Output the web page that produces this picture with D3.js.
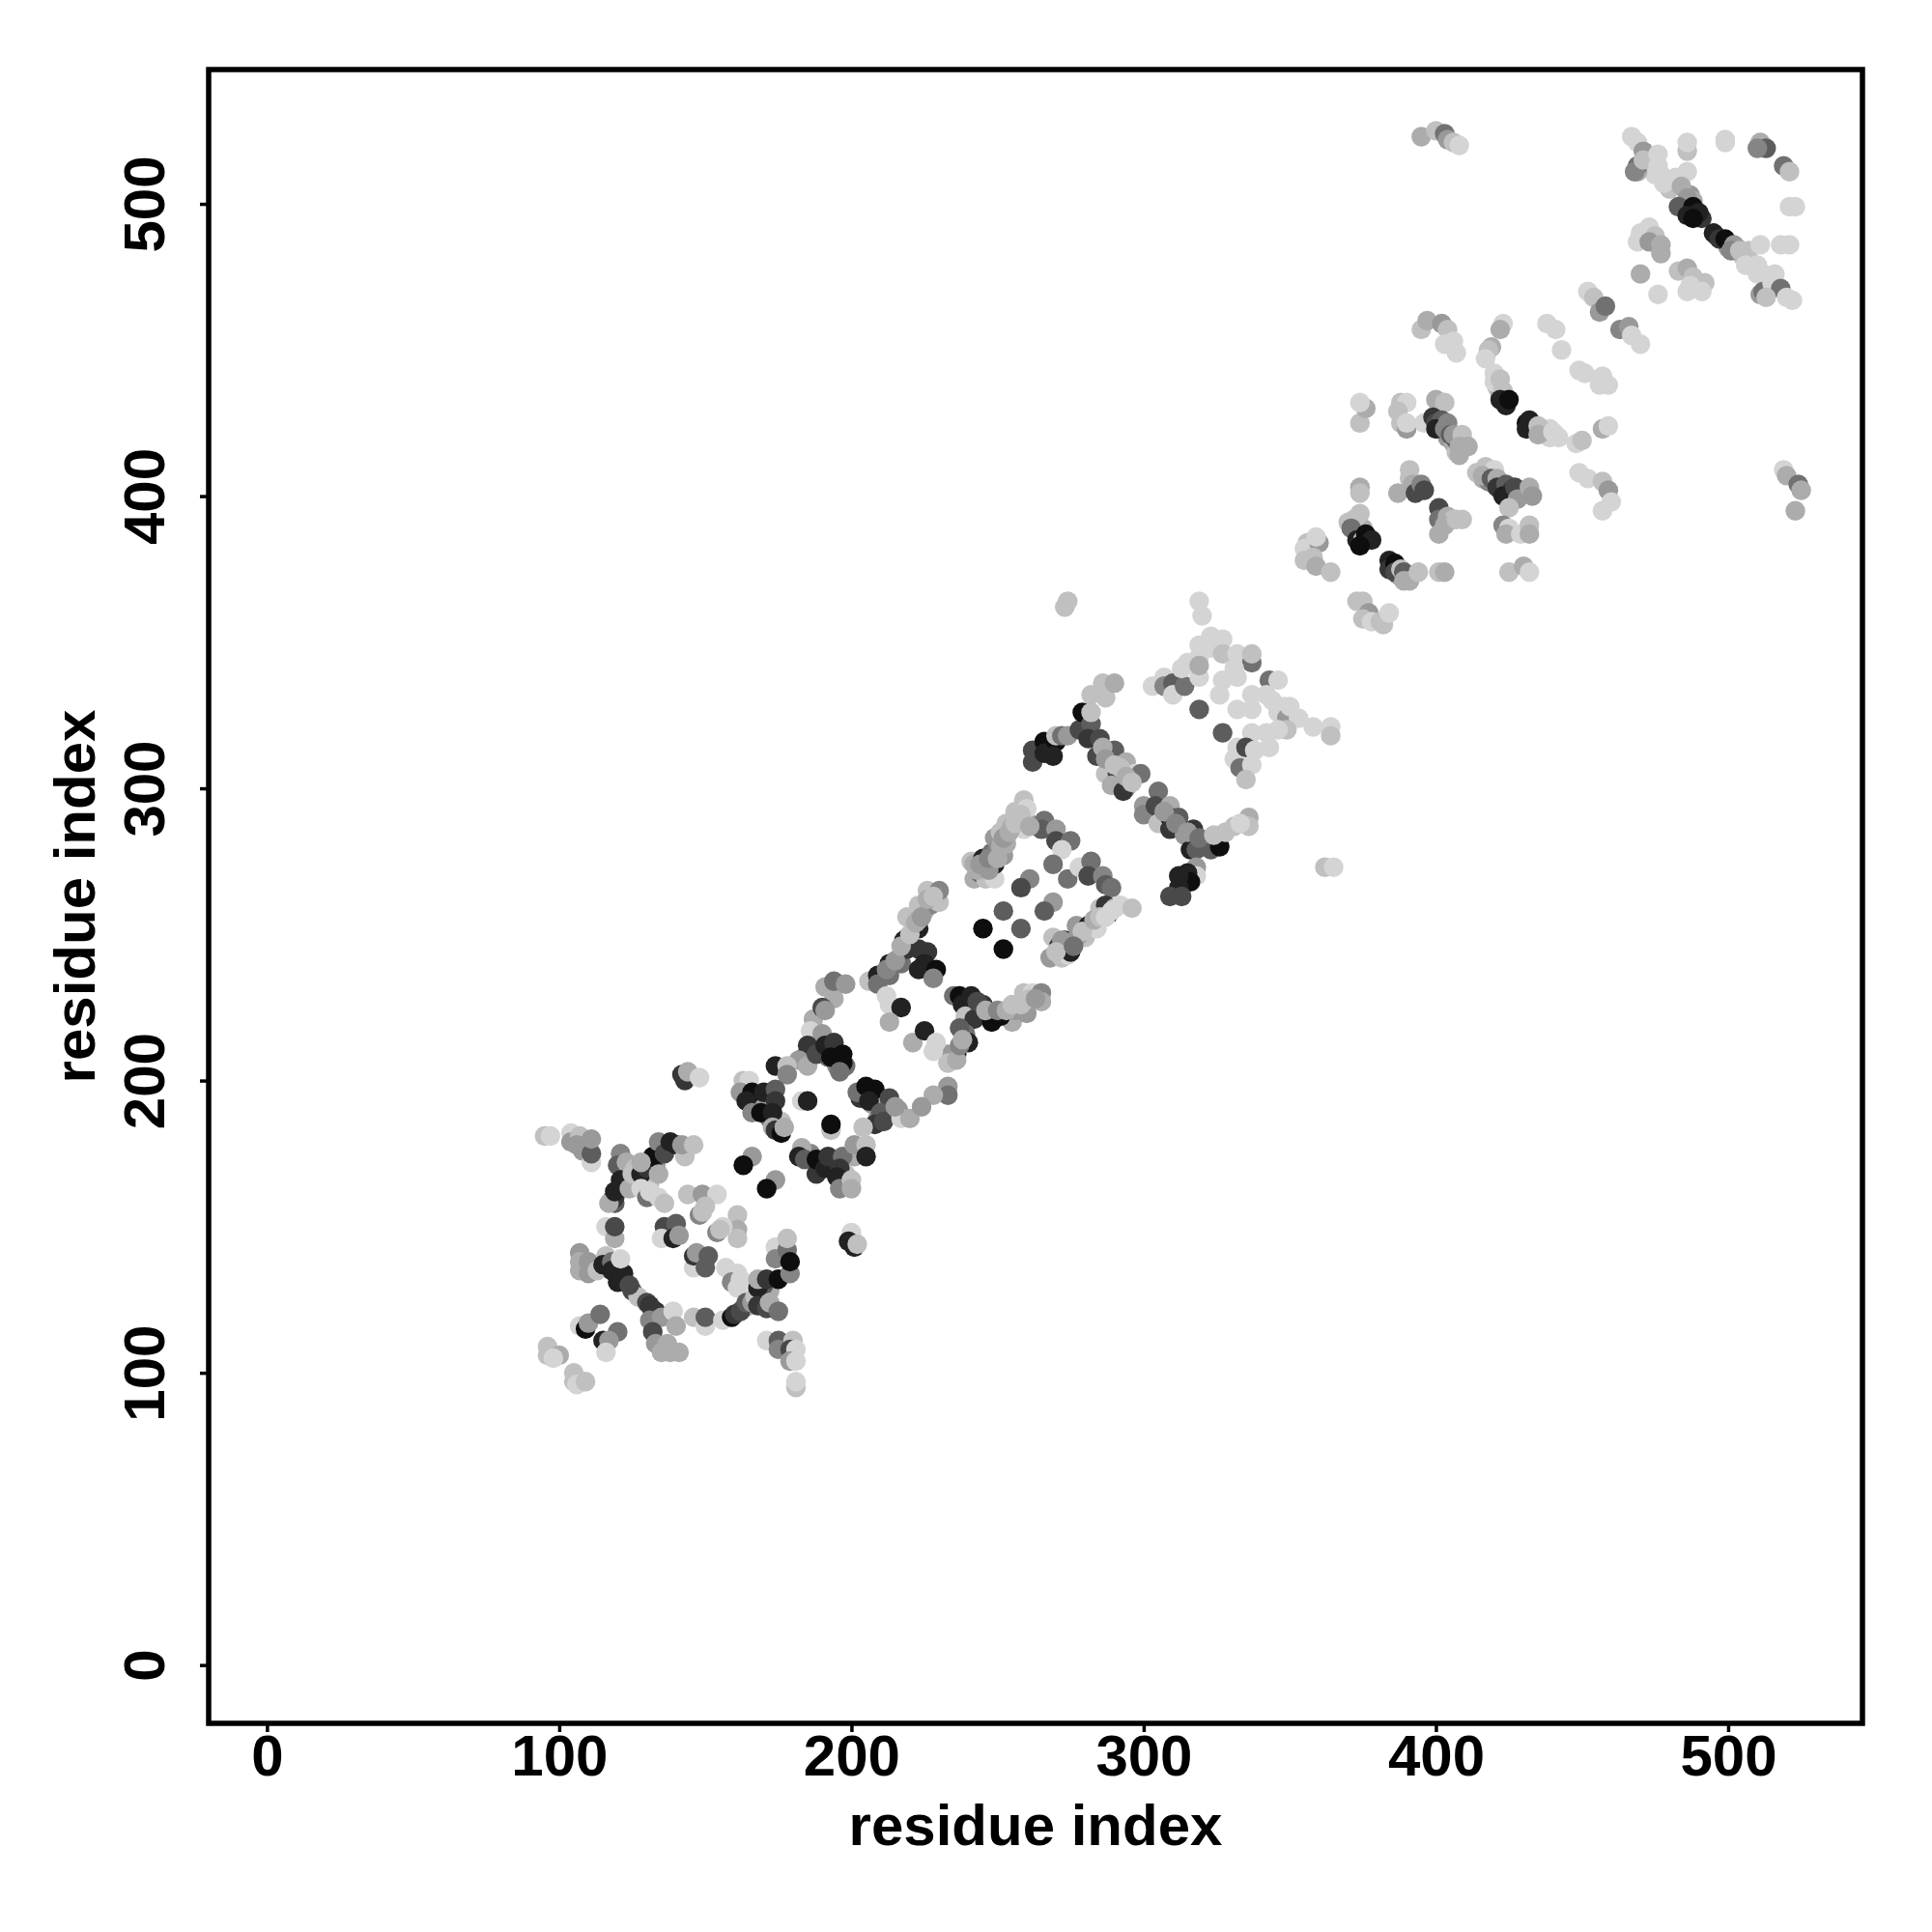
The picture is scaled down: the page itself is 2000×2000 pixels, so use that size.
<!DOCTYPE html>
<html><head><meta charset="utf-8">
<script src="https://cdn.jsdelivr.net/npm/d3@7"></script>
<style>html,body{margin:0;padding:0;background:#fff}svg{display:block}</style>
</head><body><svg id="chart" width="2000" height="2000"></svg>
<script>
const xTicks=[0,100,200,300,400,500];
const yTicks=[0,100,200,300,400,500];
const xTitle="residue index";
const yTitle="residue index";
// each contact: [residue x, residue y, strength 0-10]
const capLeft=[[95,181,1],[97,181,0],[104,182,0],[104,179,3],[107,181,1],[106,178,3],[108,176,3],[111,172,0],[111,175,6],[111,180,3]];
const crossUpper=[[121,175,4],[120,171,6],[123,172,2],[118,159,9],[119,160,8],[117,158,2],[119,162,9],[121,166,9],[122,164,9],[124,163,2],[125,168,1],[126,170,1],[128,168,9],[130,170,8],[132,172,8],[132,174,10],[128,172,2],[134,168,2],[134,179,4],[136,175,7],[138,179,9],[140,178,9],[143,174,1],[142,178,3],[146,178,1],[128,163,0],[130,160,5],[131,162,0],[134,160,0],[136,158,1]];
const midDots=[[144,161,1],[149,161,3],[154,161,0],[150,157,1],[148,154,4],[149,155,1],[161,154,1],[161,149,2],[161,146,1],[156,150,0],[154,148,4],[155,149,1],[136,150,7],[140,151,6],[135,146,0],[139,146,9],[141,147,3],[146,136,0],[146,140,8],[147,141,3],[150,136,6],[151,140,6],[116,150,0],[119,146,2],[119,150,7]];
const crossLeft=[[107,141,3],[107,138,2],[107,135,2],[110,138,3],[110,134,3],[116,140,1],[113,135,1],[115,137,9],[118,138,5],[118,135,9],[120,131,9],[121,132,9],[122,134,9],[124,130,7],[121,139,0]];
const crossLow=[[130,124,7],[131,123,8],[133,121,8],[131,118,4],[135,119,3],[139,121,0],[140,116,2],[132,114,7],[133,110,3],[137,110,2],[135,107,2],[138,107,2],[141,107,2],[146,119,1],[150,116,0],[150,119,6]];
const crossRight=[[157,136,0],[161,134,0],[159,131,4],[162,132,0],[161,129,0],[156,118,0],[159,119,10],[160,120,8],[162,121,7],[164,124,6],[166,124,3],[167,126,1],[168,129,9],[168,132,2],[171,132,8],[175,132,10],[168,123,8],[171,122,7],[172,124,2],[175,121,5],[174,143,0],[174,139,4],[178,142,5],[178,146,1],[179,134,4],[179,138,10]];
const lowTail=[[171,111,0],[175,111,6],[175,108,4],[180,111,1],[179,108,7],[181,108,0],[179,104,3],[181,104,0],[181,95,1],[181,97,0],[107,116,0],[109,115,10],[110,117,3],[114,120,5],[120,114,5],[115,111,9],[117,111,3],[116,107,0],[96,109,1],[96,106,1],[100,106,2],[98,105,0],[105,100,1],[105,97,1],[106,96,0],[109,97,1]];
const outliers=[[200,148,0],[199,145,9],[201,143,9],[202,144,1],[142,202,8],[143,200,8],[144,203,2],[148,201,0],[273,362,1],[274,364,1],[319,364,0],[320,359,0],[362,273,1],[365,273,0],[358,321,0],[364,321,0],[364,318,1]];
const boxDots=[[166,174,3],[163,171,10],[174,166,3],[171,163,10],[183,193,0],[185,193,9],[193,183,1],[193,185,10]];
const boxTop=[[187,221,2],[186,217,0],[190,216,3],[185,212,8],[184,208,8],[182,207,3],[185,205,2],[188,209,7],[191,212,9],[194,213,8],[193,208,10],[197,209,10],[197,206,10],[196,203,5],[174,205,9],[178,205,1],[178,202,4]];
const boxLeft=[[163,200,1],[165,200,0],[162,196,3],[166,196,10],[164,193,9],[166,189,4],[170,196,9],[174,197,6],[174,193,8],[169,189,10],[173,189,9],[173,184,2],[174,183,8],[176,182,10],[177,184,2]];
const boxRight=[[202,196,5],[205,198,10],[208,197,10],[206,193,9],[213,194,7],[210,189,6],[208,185,8],[211,186,7],[216,190,3],[204,184,1],[217,187,0],[220,187,2]];
const boxBottom=[[183,177,2],[182,174,9],[184,173,6],[188,168,8],[188,173,10],[191,170,9],[192,174,8],[197,174,5],[196,170,8],[201,178,3],[205,178,1],[205,174,9],[195,167,9],[196,163,4],[200,166,1],[200,163,2]];
const edgeA=[[194,228,2],[190,225,7],[191,224,3],[191,232,2],[194,234,5],[198,233,3],[206,234,1],[209,236,9],[209,233,5],[213,240,9],[213,236,5],[217,243,1],[217,240,5],[219,249,2],[218,248,9],[219,245,8],[223,245,8],[223,238,9],[226,244,8],[225,240,9],[229,238,10],[228,235,4],[223,252,9],[219,256,1],[223,255,3],[225,258,2],[223,260,1],[227,260,4],[226,265,1],[230,261,1],[230,265,4]];
const edgeB=[[235,229,5],[237,229,10],[241,229,9],[238,226,9],[245,226,8],[239,222,1],[247,222,6],[242,221,8],[248,220,10],[255,220,2],[251,222,10],[256,224,3],[257,226,3],[259,230,1],[262,230,0],[260,223,3],[265,230,4],[265,227,2],[239,216,5],[237,218,6],[240,213,9],[236,209,9],[233,209,3],[233,206,1],[236,207,2],[233,198,3],[233,195,5],[228,195,2],[224,191,3],[215,191,3]];
const edgeC=[[212,229,0],[213,226,0],[217,225,9],[213,220,2],[221,213,2],[225,217,9],[229,213,0],[228,210,0]];
const dotsMid=[[261,269,4],[258,266,7],[252,258,6],[269,261,3],[266,258,6],[258,252,6],[245,252,10],[252,245,10]];
const stripLeft=[[241,275,1],[242,269,2],[242,274,2],[244,271,6],[245,276,9],[246,269,1],[249,269,0],[249,274,9],[248,278,5],[249,283,3],[250,279,4],[252,277,3],[252,281,3],[253,281,2],[251,285,1],[253,288,1],[257,289,9],[256,292,1],[259,286,0],[260,289,3],[259,296,1],[260,293,0]];
const stripUp=[[266,289,5],[265,286,6],[270,286,3],[270,282,7],[275,282,5],[272,279,0],[269,274,5],[274,269,5],[278,273,0],[282,275,5],[281,270,7],[286,270,4],[287,267,6],[289,266,5]];
const stripRight=[[269,249,1],[268,242,3],[272,242,1],[272,245,9],[271,246,8],[274,243,0],[273,248,9],[275,244,9],[277,249,5],[277,253,3],[280,249,1],[281,253,9],[284,252,0],[285,259,1],[287,260,8],[288,257,9],[290,259,1],[292,260,0],[296,259,1]];
const tallUp=[[262,309,7],[262,313,7],[266,316,10],[266,312,9],[270,316,10],[269,311,9],[270,318,1],[272,318,5],[274,318,3],[278,320,7],[279,326,10],[282,322,6],[282,326,1],[282,332,1],[281,317,8],[287,331,1],[286,336,1],[290,336,2]];
const tallMid=[[285,317,7],[284,311,7],[290,313,6],[288,309,10],[294,309,2],[287,305,1],[291,305,7],[297,305,0],[299,305,5],[292,303,7],[289,301,2],[294,300,2],[293,299,8]];
const tallLow=[[305,299,5],[300,294,3],[300,291,4],[304,294,7],[309,294,2],[305,288,1],[309,290,10],[312,290,6],[309,286,8],[317,286,8],[314,284,3],[317,282,1],[316,279,9],[322,282,7],[318,279,6],[323,279,6],[326,283,1],[326,280,10],[331,287,1],[336,290,2],[336,287,1]];
const tallFoot=[[318,273,3],[318,270,0],[315,271,9],[316,268,10],[312,270,9],[312,266,9],[309,263,7],[313,263,7]];
const lightTop=[[303,335,0],[307,338,0],[307,335,4],[310,336,6],[310,332,0],[314,335,5],[313,341,0],[315,343,0],[319,338,0],[319,349,0],[319,345,0],[319,342,2],[323,352,0],[323,348,0],[327,351,0],[327,346,1],[332,346,0],[337,343,5],[337,346,1],[331,341,0],[327,337,0],[326,332,0],[332,338,0]];
const lightDots=[[319,327,6],[327,319,6]];
const lightRight=[[332,327,0],[337,332,0],[343,337,5],[342,332,0],[346,337,0],[337,327,0],[344,330,0],[346,326,0],[348,328,0],[349,324,3],[350,328,0],[353,324,0],[349,320,1],[346,320,0]];
const lightLow=[[337,319,0],[332,314,0],[331,310,0],[335,314,7],[342,319,0],[343,314,0],[338,313,0],[333,307,5],[337,308,0],[335,303,1]];
const groupD=[[356,384,1],[355,382,0],[360,384,3],[355,378,1],[358,379,1],[359,376,2],[364,374,1],[359,386,0]];
const groupE=[[370,391,1],[374,394,1],[371,389,5],[373,385,9],[375,385,1],[376,387,10],[378,385,9],[374,383,10],[374,403,2],[374,401,1],[374,425,1],[376,430,2],[374,432,0]];
const groupF=[[384,378,9],[384,375,8],[386,377,10],[386,374,7],[388,375,1],[389,374,6],[389,371,2],[391,371,2],[394,374,1],[401,374,1],[403,374,2],[425,374,1],[430,376,2],[432,374,0]];
const groupG=[[373,364,1],[375,364,1],[377,360,3],[375,358,1],[378,357,0],[381,357,1],[382,356,1],[384,360,0]];
const groupH=[[388,432,1],[390,432,0],[387,429,1],[388,425,1],[390,423,3],[390,425,0],[396,425,0],[400,433,2],[403,432,1]];
const chain3=[[399,427,8],[400,425,7],[402,426,6],[400,423,9],[403,423,4],[404,425,4],[407,419,6],[405,421,6],[406,421,3],[409,421,1],[408,417,2],[411,417,2],[408,414,2]];
const groupI=[[391,409,1],[391,406,1],[387,401,2],[392,404,2],[393,401,7],[395,404,4],[396,402,7],[401,396,7],[401,392,5],[404,393,2],[406,392,1],[409,392,1],[403,390,2],[407,392,1],[401,387,2]];
const chain4=[[414,408,1],[417,410,1],[420,409,0],[416,407,2],[419,406,6],[421,406,2],[421,403,8],[424,404,6],[423,400,9],[426,402,8],[424,400,9],[427,403,7],[428,399,3],[432,403,2],[433,400,3]];
const groupJ=[[425,396,1],[423,390,4],[425,389,0],[424,387,2],[429,387,0],[432,390,1],[432,387,2]];
const chainUp=[[420,442,0],[420,439,0],[422,440,1],[423,436,1],[422,433,9],[424,431,9],[425,433,10],[431,425,10],[432,426,9],[431,423,9],[435,424,1],[437,422,1],[435,421,2],[440,422,0],[441,421,0],[442,420,0]];
const groupK=[[419,451,2],[418,450,1],[417,447,0],[423,459,0],[422,457,2],[395,457,1],[397,460,2],[402,459,3],[404,457,1],[403,452,0],[405,452,0],[406,453,0],[407,449,0]];
const groupL=[[438,459,0],[441,457,0],[443,450,0],[449,443,0],[451,442,0],[457,441,0],[456,438,0],[459,438,0],[448,418,0],[450,419,1],[457,423,2],[459,424,0],[449,408,0],[452,406,0],[457,405,1],[459,402,3],[460,398,0],[457,395,0]];
const topFar=[[395,523,2],[400,525,1],[403,524,5],[404,522,3],[406,521,1],[408,520,0],[519,409,0],[520,407,2],[524,404,5],[525,402,2],[523,395,2]];
const groupM=[[452,470,0],[454,468,1],[456,463,3],[458,465,5],[463,457,4],[466,458,3],[467,455,0],[470,452,0]];
const groupN=[[470,476,2],[476,469,0],[470,490,0],[473,492,0],[469,487,0],[475,489,1],[473,487,3],[477,486,2],[477,483,2],[483,477,1],[486,478,2],[488,475,1],[492,473,1],[486,470,0],[491,470,0],[487,472,0]];
const groupO=[[467,523,0],[469,521,0],[471,518,3],[469,511,2],[469,513,5],[468,511,4],[471,515,1],[476,517,0],[476,513,0],[478,507,0],[482,509,0],[486,511,0],[486,518,1],[486,521,0],[499,521,0],[499,522,0]];
const groupP=[[484,506,2],[486,502,3],[483,499,6],[488,499,10],[486,496,9],[490,497,9],[488,495,10],[495,490,9],[497,488,8],[499,488,10],[502,486,3],[501,484,4],[504,484,1],[507,484,1],[511,486,0],[518,486,0],[521,486,0]];
const groupQ=[[506,479,0],[510,479,0],[516,476,0],[512,476,0],[511,469,3],[512,470,5],[515,473,0],[518,471,5],[520,468,0],[522,467,0],[513,468,1],[511,521,2],[513,519,6],[510,519,4],[519,513,5],[521,511,1],[521,499,0],[523,499,0]];
const fillStrips=[[243,272,2],[244,274,3],[247,272,3],[247,276,4],[250,276,2],[251,280,2],[252,283,3],[254,285,2],[255,287,2],[256,288,1],[258,291,1],[261,287,2],[275,247,2],[278,250,3],[279,251,1],[283,255,2],[285,256,1],[287,256,0],[289,258,0],[272,248,3],[270,244,1],[276,246,5]];
const fillEdges=[[212,238,4],[215,241,3],[217,246,2],[220,250,1],[222,254,2],[224,256,3],[226,262,2],[228,263,1],[243,227,7],[246,224,2],[250,224,4],[253,224,2],[255,226,1],[258,226,1],[261,228,1],[263,228,3],[237,212,4],[238,214,2]];
const fillTall=[[286,314,2],[287,310,3],[290,308,1],[292,307,1],[294,304,2],[296,302,1],[307,292,3],[311,288,4],[315,285,3],[319,283,5],[324,284,1],[328,285,1],[333,288,0]];
const fillCross=[[119,158,6],[122,168,3],[125,165,2],[127,167,3],[131,165,1],[133,171,3],[135,176,5],[160,120,3],[163,122,5],[165,123,2],[172,128,2],[170,130,6],[125,128,7],[127,126,1]];
const fillBox=[[186,209,4],[190,213,3],[192,208,5],[195,205,4],[198,205,5],[203,194,8],[207,192,3],[211,191,2],[214,189,1],[209,187,3],[186,175,4],[190,172,7],[194,171,3],[198,168,1],[201,174,2],[164,197,3],[167,192,5],[170,191,3],[172,187,5],[176,186,1]];
const fillUpper=[[401,425,3],[404,420,3],[406,418,2],[407,415,1],[416,406,2],[418,405,4],[420,404,4],[422,402,3],[375,389,2],[376,386,3],[372,392,1],[385,376,4],[387,373,2],[390,373,1],[421,437,1],[422,435,2],[424,432,3],[433,424,4],[436,422,1],[439,420,0],[439,423,0],[487,503,3],[486,500,4],[488,501,2],[491,495,8],[496,489,5],[500,485,3],[503,485,2],[505,482,1],[507,481,0],[510,476,0],[514,474,0],[474,514,0],[475,510,0],[477,510,0],[480,505,1]];
const allContacts=[fillCross,fillBox,fillUpper,capLeft,crossUpper,midDots,crossLeft,crossLow,crossRight,lowTail,outliers,boxDots,boxTop,boxLeft,boxRight,boxBottom,edgeA,edgeB,edgeC,dotsMid,stripLeft,stripUp,stripRight,tallUp,tallMid,tallLow,tallFoot,lightTop,lightDots,lightRight,lightLow,groupD,groupE,groupF,groupG,groupH,chain3,groupI,chain4,groupJ,chainUp,groupK,groupL,topFar,groupM,groupN,groupO,groupP,groupQ,fillStrips,fillEdges,fillTall].flat();

const L=216,R=1928,T=72,B=1784;
const x=d3.scaleLinear().domain([-19.96,545.96]).range([L,R]);
const y=d3.scaleLinear().domain([-19.96,545.96]).range([B,T]);
const gray=d3.scaleLinear().domain([0,10]).range(["#d4d4d4","#0e0e0e"]);
const svg=d3.select("#chart");
const font="'Liberation Sans',Arial,Helvetica,sans-serif";

svg.append("g").selectAll("circle").data(allContacts).join("circle")
  .attr("cx",d=>x(d[0])).attr("cy",d=>y(d[1])).attr("r",10.2).attr("fill",d=>gray(d[2]));

svg.append("rect").attr("x",L).attr("y",T).attr("width",R-L).attr("height",B-T)
  .attr("fill","none").attr("stroke","#000").attr("stroke-width",5.5);

const gx=svg.append("g").attr("transform",`translate(0,${B})`)
  .call(d3.axisBottom(x).tickValues(xTicks).tickSize(9).tickPadding(0).tickFormat(d3.format("d")));
gx.select(".domain").remove();
gx.selectAll(".tick line").attr("stroke","#000").attr("stroke-width",3.5);
gx.selectAll(".tick text").attr("y",54).attr("dy",0).attr("fill","#000")
  .style("font",`bold 60px ${font}`).attr("text-anchor","middle");

const gy=svg.append("g").attr("transform",`translate(${L},0)`)
  .call(d3.axisLeft(y).tickValues(yTicks).tickSize(9).tickPadding(0).tickFormat(d3.format("d")));
gy.select(".domain").remove();
gy.selectAll(".tick line").attr("stroke","#000").attr("stroke-width",3.5);
gy.selectAll(".tick text").attr("x",0).attr("y",0).attr("dy",0).attr("fill","#000")
  .attr("text-anchor","middle").attr("transform","translate(-46,0) rotate(-90)")
  .style("font",`bold 60px ${font}`);

svg.append("text").attr("x",(L+R)/2).attr("y",1910).attr("text-anchor","middle")
  .style("font",`bold 60px ${font}`).attr("fill","#000").text(xTitle);
svg.append("text").attr("transform",`translate(98,${(T+B)/2}) rotate(-90)`).attr("text-anchor","middle")
  .style("font",`bold 60px ${font}`).attr("fill","#000").text(yTitle);
</script></body></html>
